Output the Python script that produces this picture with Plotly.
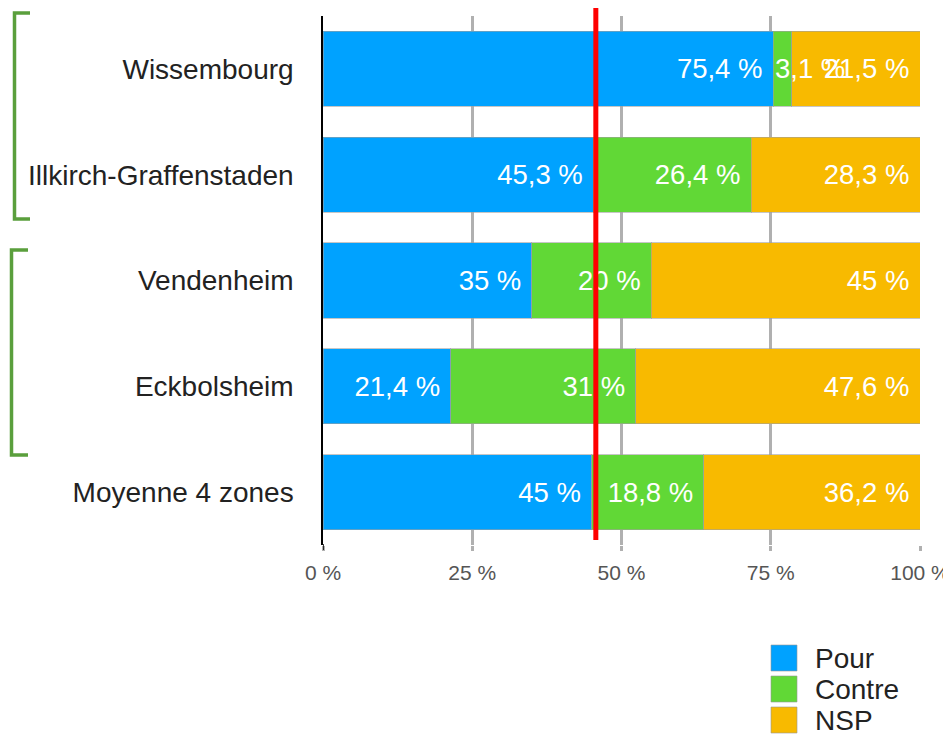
import plotly.graph_objects as go

communes = ["Wissembourg", "Illkirch-Graffenstaden", "Vendenheim", "Eckbolsheim", "Moyenne 4 zones"]
series = ["Pour", "Contre", "NSP"]
pour = [75.4, 45.3, 35, 21.4, 45]
contre = [3.1, 26.4, 20, 31, 18.8]
nsp = [21.5, 28.3, 45, 47.6, 36.2]
seuil = 45.7  # red reference line
tick_vals = [0, 25, 50, 75, 100]
tick_text = ["0 %", "25 %", "50 %", "75 %", "100 %"]

colors = ["#00a2ff", "#61d836", "#f8ba00"]
# page body has an 8px margin, so the figure is drawn 8px in from the window corner
OFF = 8
W, H = 951 - OFF, 736 - OFF
L, R, T, B = 323 - OFF, 31, 16 - OFF, 191
FONT = "Liberation Sans, Arial, sans-serif"


def px(x):
    return (x - OFF - L) / (W - L - R)


def py(y):
    return (H - B - (y - OFF)) / (H - T - B)


def fmt(v):
    return f"{v:g}".replace(".", ",") + " %"


fig = go.Figure()
annotations = []
starts = [0] * len(communes)
for name, vals, col in zip(series, [pour, contre, nsp], colors):
    fig.add_trace(go.Bar(
        y=communes, x=vals, name=name, orientation="h",
        marker=dict(color=col, line=dict(color="rgba(160,160,160,0.6)", width=1)),
        text=[fmt(v) + "\u00a0" for v in vals],
        textposition=["none" if v < 5 else "inside" for v in vals],
        insidetextanchor="end", textangle=0, constraintext="none",
        textfont=dict(color="white", size=27.5, family=FONT),
        showlegend=False, hoverinfo="skip",
    ))
    # segments too thin for their label: write it from the segment start, spilling over
    for c, v, s in zip(communes, vals, starts):
        if v < 5:
            annotations.append(dict(x=s, y=c, xref="x", yref="y", text=fmt(v),
                                    showarrow=False, xanchor="left", yanchor="middle",
                                    font=dict(color="white", size=27.5, family=FONT)))
    starts = [s + v for s, v in zip(starts, vals)]

shapes = [
    # red threshold line
    dict(type="line", xref="x", yref="paper", x0=seuil, x1=seuil,
         y0=py(540), y1=py(3), line=dict(color="#ff0000", width=5)),
    # black tick under the 0 % axis
    dict(type="line", xref="x", yref="paper", x0=0, x1=0,
         y0=py(550), y1=py(544), line=dict(color="black", width=1.5)),
    # green brackets
    dict(type="path", xref="paper", yref="paper",
         path=f"M {px(30)},{py(13)} L {px(14.5)},{py(13)} L {px(14.5)},{py(219)} L {px(30)},{py(219)}",
         line=dict(color="#5a9f3c", width=3.5)),
    dict(type="path", xref="paper", yref="paper",
         path=f"M {px(28)},{py(250)} L {px(11.5)},{py(250)} L {px(11.5)},{py(455)} L {px(28)},{py(455)}",
         line=dict(color="#5a9f3c", width=3.5)),
]
# hand-drawn legend
for i, (name, col) in enumerate(zip(series, colors)):
    yc = 658 + i * 31
    shapes.append(dict(type="rect", xref="paper", yref="paper",
                       x0=px(771), x1=px(797), y0=py(yc - 13), y1=py(yc + 13),
                       fillcolor=col, line=dict(color="rgba(150,150,150,0.6)", width=1)))
    annotations.append(dict(xref="paper", yref="paper", x=px(813), y=py(yc),
                            text=name, showarrow=False, xanchor="left", yanchor="middle",
                            font=dict(size=28, color="#222", family=FONT)))

fig.update_layout(
    width=W, height=H, barmode="stack", bargap=0.29,
    margin=dict(l=L, r=R, t=T, b=B, pad=0),
    plot_bgcolor="white", paper_bgcolor="white",
    font=dict(family=FONT, color="#222"),
    uniformtext=dict(minsize=27, mode="show"),
    shapes=shapes, annotations=annotations,
    xaxis=dict(range=[0, 100], tickvals=tick_vals, ticktext=tick_text,
               showgrid=True, gridcolor="#b0b0b0", gridwidth=2.5,
               ticks="outside", ticklen=5, tickwidth=2.5, tickcolor="#b0b0b0",
               ticklabelstandoff=4,
               tickfont=dict(size=21, color="#555", family=FONT),
               zeroline=False, showline=False, fixedrange=True, automargin=False),
    yaxis=dict(autorange="reversed", showline=True, linecolor="black", linewidth=1.5,
               ticks="", ticklabelstandoff=22, showgrid=False, automargin=False,
               tickfont=dict(size=28, color="#222", family=FONT)),
)

fig.write_html("out.html")
